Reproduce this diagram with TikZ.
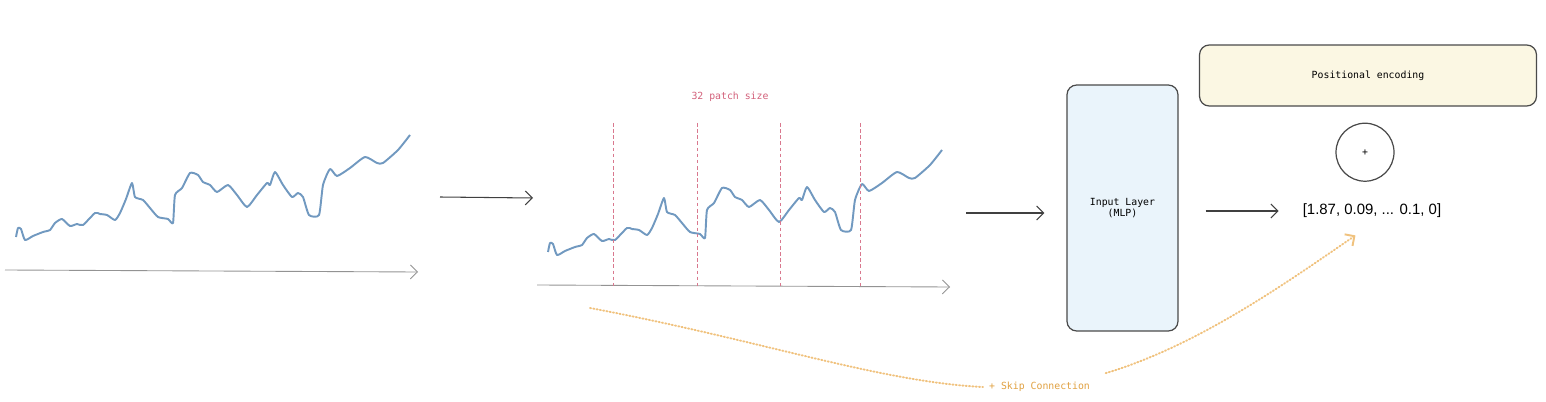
\documentclass[tikz,border=0pt]{standalone}
\usepackage{fontspec}
\setmainfont{Liberation Sans}
\setmonofont{DejaVu Sans Mono}
\usetikzlibrary{positioning,arrows.meta}

\definecolor{seriesblue}{HTML}{7199C0}
\definecolor{patchred}{HTML}{D2607A}
\definecolor{skiporange}{HTML}{E0A040}
\definecolor{skipline}{HTML}{F0C27E}
\definecolor{layerblue}{HTML}{EAF4FB}
\definecolor{posyellow}{HTML}{FBF7E3}
\definecolor{boxedge}{HTML}{4A4A4A}

\newcommand{\tscurve}{%
\draw[series] plot[smooth, tension=0.35] coordinates {(16,237) (18,228) (21,229) (25,240) (33,236) (43,232) (50,230) (55,223) (62,219) (70,226) (77,224) (83,225) (95,213) (100,214) (107,215) (115,220) (120,213) (126,199) (132,183) (135,197) (143,200) (150,208) (158,217) (168,219) (173,223) (175,195) (182,188) (190,173) (198,175) (203,182) (210,185) (217,192) (228,185) (237,195) (247,207) (257,195) (267,183) (270,185) (275,172) (283,185) (292,197) (298,193) (303,197) (309,215) (319,215) (323,185) (330,169) (337,176) (350,168) (365,157) (377,163) (383,163) (398,150) (410,135)};}

\begin{document}
\begin{tikzpicture}[x=0.02cm, y=-0.02cm, >={Straight Barb[length=1.4mm]},
  series/.style={seriesblue, line width=1.1pt, line join=round},
  timeaxis/.style={->, gray!85, line width=0.5pt},
  flow/.style={->, black!75, line width=0.6pt},
  cut/.style={patchred!85, dash pattern=on 2pt off 1.5pt, line width=0.5pt},
  mono/.style={font=\fontsize{5.6}{6.3}\selectfont\ttfamily},
  block/.style={rectangle, rounded corners=5.5pt, draw=boxedge, line width=0.7pt, mono},
  skip/.style={skipline, line width=1.1pt, dash pattern=on 0.6pt off 1.3pt, line cap=round}]
\useasboundingbox (0,0) rectangle (1546,402);

\tscurve
\draw[timeaxis] (5,270) -- (418,272);

\begin{scope}[shift={(532,15)}]
\tscurve
\draw[timeaxis] (5,270) -- (418,272);
\foreach \px in {81,165,248,328}
  \draw[cut] (\px,108) -- (\px,271);
\end{scope}

\node (patchsize) [mono, text=patchred] at (730,97) {32 patch size};

\coordinate (rawout) at (440,197);
\coordinate (patchin) at (533,198);
\coordinate (patchout) at (966,213);
\coordinate (skipfrom) at (590,308);

\node (inp) [block, fill=layerblue, minimum width=2.22cm, minimum height=4.92cm, align=center] at (1122.5,208) {Input Layer\\(MLP)};
\node (vec) [font=\fontsize{8.5}{10}\selectfont] at (1372,211) {[1.87, 0.09, ... 0.1, 0]};
\node (plus) [circle, draw=boxedge, line width=0.7pt, minimum size=1.16cm, mono, above=0.32cm of vec, xshift=-0.14cm] {+};
\node (posenc) [block, fill=posyellow, minimum width=6.74cm, minimum height=1.22cm, above=0.32cm of plus, xshift=0.06cm] {Positional encoding};
\node (skiplbl) [mono, text=skiporange, anchor=west] at (983,387) {+ Skip Connection};

\draw[flow] (rawout) -- (patchin);
\draw[flow, shorten >=0.44cm] (patchout) -- (patchout -| inp.west);
\draw[flow, shorten <=0.54cm, shorten >=0.36cm] (inp.east |- vec.west) -- (vec.west);

\draw[skip] (skipfrom) .. controls (760,340) and (880,382) .. (skiplbl.west);
\draw[skip, ->, shorten <=0.2cm, shorten >=0.4cm] (skiplbl.north east) .. controls (1200,345) and (1290,280) .. (vec.south);

\end{tikzpicture}
\end{document}
